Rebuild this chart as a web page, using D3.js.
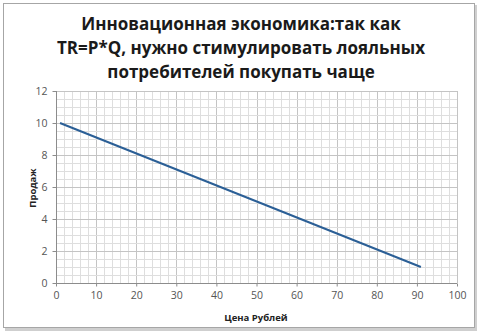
<!DOCTYPE html>
<html><head><meta charset="utf-8">
<script src="https://cdn.jsdelivr.net/npm/d3@7"></script>
<style>body{margin:0;background:#fff}svg{display:block}</style>
</head><body><svg id="c" width="482" height="336"></svg>
<script>
const titleLines = ["Инновационная экономика:так как", "TR=P*Q, нужно стимулировать лояльных", "потребителей покупать чаще"];
const price = [1, 11, 21, 31, 41, 51, 61, 71, 81, 91];
const sales = [10, 9, 8, 7, 6, 5, 4, 3, 2, 1];
const xTicks = [0, 10, 20, 30, 40, 50, 60, 70, 80, 90, 100];
const yTicks = [0, 2, 4, 6, 8, 10, 12];
const xLabel = "Цена Рублей";
const yLabel = "Продаж";

const svg = d3.select("#c");
// outer frame with shadow
svg.append("rect").attr("x",5).attr("y",5).attr("width",472).attr("height",326).attr("fill","#cfcfcf");
svg.append("rect").attr("x",3.5).attr("y",3.5).attr("width",471).attr("height",324).attr("fill","#fff").attr("stroke","#a6a6a6");

const x = d3.scaleLinear().domain([0,100]).range([56,457]);
const y = d3.scaleLinear().domain([0,12]).range([283,91]);

const g = svg.append("g");
// minor grid
g.selectAll(".vx").data(d3.range(0,101,2)).join("line")
  .attr("x1",d=>Math.round(x(d))+0.5).attr("x2",d=>Math.round(x(d))+0.5)
  .attr("y1",y(12)).attr("y2",y(0)).attr("stroke",d=>d%10===0?"#c4c4c4":"#dedede").attr("stroke-width",1);
g.selectAll(".hy").data(d3.range(0,12.01,0.5)).join("line")
  .attr("y1",d=>Math.round(y(d))+0.5).attr("y2",d=>Math.round(y(d))+0.5)
  .attr("x1",x(0)).attr("x2",x(100)).attr("stroke",d=>d%2===0?"#c4c4c4":"#dedede").attr("stroke-width",1);

// axes
const xAxis = d3.axisBottom(x).tickValues(xTicks).tickSize(4).tickFormat(d3.format("d"));
const yAxis = d3.axisLeft(y).tickValues(yTicks).tickSize(4).tickFormat(d3.format("d"));
const ax = svg.append("g").attr("transform",`translate(0,${Math.round(y(0))+0.5})`).call(xAxis);
const ay = svg.append("g").attr("transform",`translate(${Math.round(x(0))+0.5},0)`).call(yAxis);
[ax,ay].forEach(a=>{
  a.select(".domain").attr("stroke","#8c8c8c");
  a.selectAll(".tick line").attr("stroke","#8c8c8c");
  a.selectAll(".tick text").attr("fill","#555").attr("font-family","'Open Sans', sans-serif").attr("font-size","10.5px");
});
ax.selectAll(".tick line").attr("y2",3);
ax.selectAll(".tick text").attr("dy","0.71em").attr("y",8);
ay.selectAll(".tick text").attr("x",-9);
ax.select(".domain").attr("d",`M${x(0)},0H${x(100)}`);
ay.select(".domain").attr("d",`M0,${y(0)}V${y(12)}`);

// line
svg.append("path").datum(price.map((p,i)=>[p,sales[i]]))
  .attr("fill","none").attr("stroke","#2b5f96").attr("stroke-width",2)
  .attr("d",d3.line().x(d=>x(d[0])).y(d=>y(d[1])));

// title
svg.append("g").selectAll("text").data(titleLines).join("text")
  .attr("x",241).attr("y",(d,i)=>30+i*24).attr("text-anchor","middle")
  .attr("font-family","'Open Sans', sans-serif").attr("font-weight","bold").attr("font-size","17px").attr("fill","#1a1a1a")
  .text(d=>d);

svg.append("text").attr("x",256).attr("y",321).attr("text-anchor","middle")
  .attr("font-family","'Open Sans', sans-serif").attr("font-weight","bold").attr("font-size","9.5px").attr("fill","#222").text(xLabel);
svg.append("text").attr("transform","translate(36,188) rotate(-90)").attr("text-anchor","middle")
  .attr("font-family","'Open Sans', sans-serif").attr("font-weight","bold").attr("font-size","9.5px").attr("fill","#222").text(yLabel);
</script></body></html>
